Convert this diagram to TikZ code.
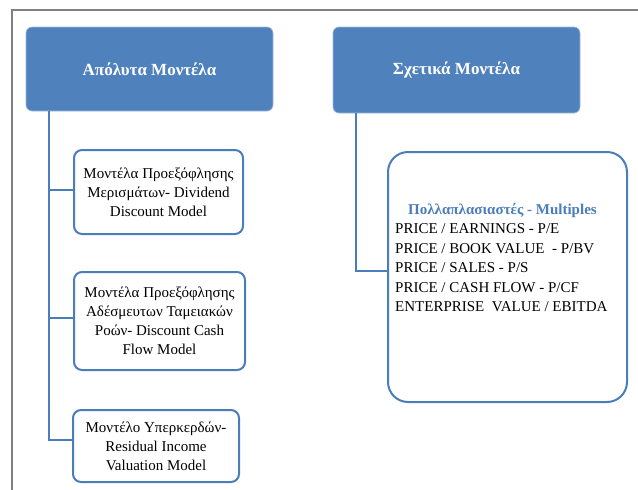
\documentclass[tikz,border=0pt]{standalone}
\usepackage{fontspec}
\setmainfont{Liberation Serif}
\usetikzlibrary{calc}
\definecolor{hblue}{HTML}{4F81BD}
\definecolor{lblue}{HTML}{4A7EBB}
\begin{document}
\begin{tikzpicture}[x=1pt,y=-1pt,
  titlebox/.style={fill=hblue, draw=hblue!55!white, line width=0.6pt, rounded corners=6pt,
    text=white, font=\fontsize{17}{20}\selectfont\bfseries, minimum width=247pt, inner sep=0pt},
  childbox/.style={draw=lblue, line width=2pt, fill=white, rounded corners=8pt,
    font=\fontsize{15}{19}\selectfont, align=center, inner sep=0pt},
  link/.style={draw=lblue, line width=2pt}]
\useasboundingbox (0,0) rectangle (638,490);
\draw[gray, line width=1.2pt] (12,490) -- (12,10) -- (638,10);

\node[titlebox, minimum height=84pt] (T1) at (149.5,69) {Απόλυτα Μοντέλα};
\node[titlebox, minimum height=86pt] (T2) at (456.5,70) {Σχετικά Μοντέλα};

\node[childbox, minimum width=169pt, minimum height=84pt] (A) at (158.5,192)
  {Μοντέλα Προεξόφλησης\\Μερισμάτων- Dividend\\Discount Model};
\node[childbox, minimum width=171pt, minimum height=98pt] (B) at (159.5,321)
  {Μοντέλα Προεξόφλησης\\Αδέσμευτων Ταμειακών\\Ροών- Discount Cash\\Flow Model};
\node[childbox, minimum width=166pt, minimum height=72pt] (C) at (156,446)
  {Μοντέλο Υπερκερδών-\\Residual Income\\Valuation Model};

\node[draw=lblue, line width=2pt, fill=white, rounded corners=20pt,
  minimum width=239pt, minimum height=250pt, inner sep=0pt] (M) at (507.5,277) {};
\node[anchor=north west, align=left, inner sep=0pt, font=\fontsize{15}{19.5}\selectfont] (MT) at (395,203)
  {{\color{lblue}\bfseries\hspace*{13pt}Πολλαπλασιαστές - Multiples}\\
   PRICE / EARNINGS - P/E\\
   PRICE / BOOK VALUE \ - P/BV\\
   PRICE / SALES - P/S\\
   PRICE / CASH FLOW - P/CF\\
   ENTERPRISE \ VALUE / EBITDA};

\coordinate (t1) at ($(T1.south west)+(23,0)$);
\coordinate (t2) at ($(T2.south west)+(23,0)$);
\draw[link] (t1) |- ($(A.west)+(0,-2)$);
\draw[link] (t1) |- ($(B.west)+(0,-3)$);
\draw[link] (t1) |- ($(C.west)+(0,-6)$);
\draw[link] (t2) |- ($(M.west)+(0,-6)$);
\end{tikzpicture}
\end{document}
